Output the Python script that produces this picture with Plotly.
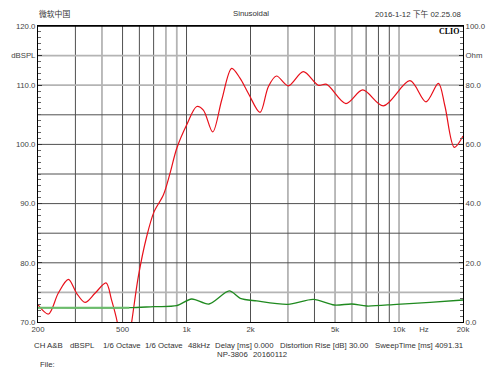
import plotly.graph_objects as go

# ---- data ----
spl_freq = [200, 224, 249, 278, 304, 333, 371, 418, 444, 472, 510, 552, 593, 649, 703, 778, 836, 899,
            1002, 1117, 1200, 1328, 1464, 1631, 1785, 1955, 2218, 2426, 2650, 3013, 3545, 4168, 4566,
            5625, 6745, 8435, 11260, 13390, 15320, 16460, 18200, 20000]
spl_db = [72.9, 71.35, 74.85, 77.2, 74.85, 73.3, 74.85, 76.6, 73.7, 70.0, 62.0, 70.0, 77.65, 84.4, 88.6,
          91.45, 95.1, 99.3, 103.3, 106.4, 105.8, 102.1, 107.5, 112.85, 111.2, 108.6, 105.4, 109.75,
          111.55, 109.9, 112.3, 110.0, 110.15, 106.9, 109.2, 106.5, 110.76, 107.2, 110.3, 106.4, 99.5, 101.4]

imp_freq = [200, 538, 700, 898, 1057, 1276, 1589, 1790, 2139, 3000, 3952, 4957, 5990, 7049, 9750, 13990, 20000]
imp_ohm = [4.83, 4.83, 5.2, 5.5, 7.77, 6.08, 10.5, 8.0, 7.1, 5.97, 7.66, 5.74, 6.08, 5.4, 5.97, 6.65, 7.43]

x_tickvals = [200, 500, 1000, 2000, 5000, 10000, 13100, 20000]
x_ticktext = ['200', '500', '1k', '2k', '5k', '10k', 'Hz', '20k']
y_tickvals = [70, 80, 90, 100, 110, 115, 120]
y_ticktext = ['70.0', '80.0', '90.0', '100.0', '110.0', 'dBSPL', '120.0']
y2_tickvals = [0, 20, 40, 60, 80, 90, 100]
y2_ticktext = ['0.0', '20.0', '40.0', '60.0', '80.0', 'Ohm', '100.0']

vgrid_dark = [300, 500, 600, 700, 1000, 2000, 4000, 7000, 8000, 9000]
vgrid_light = [400, 800, 900, 3000, 5000, 6000, 10000]
hgrid_dark = [80, 85, 90, 95, 100, 105]
hgrid_light = [75, 110, 115]

FONT = "Liberation Sans, Arial, sans-serif"
CJK = "Liberation Sans, Noto Sans CJK SC, sans-serif"

fig = go.Figure()
fig.add_trace(go.Scatter(x=imp_freq, y=imp_ohm, yaxis='y2', mode='lines',
                         line=dict(color='#1f8a1f', width=1.3, shape='spline', smoothing=0.8),
                         showlegend=False, hoverinfo='skip'))
# lighter rendering of the flat low-frequency part of the impedance curve
fig.add_trace(go.Scatter(x=imp_freq[:2], y=imp_ohm[:2], yaxis='y2', mode='lines',
                         line=dict(color='#6cbd6c', width=2),
                         showlegend=False, hoverinfo='skip'))
fig.add_trace(go.Scatter(x=spl_freq, y=spl_db, mode='lines',
                         line=dict(color='#e8101a', width=1.2, shape='spline', smoothing=0.9),
                         showlegend=False, hoverinfo='skip'))

shapes = []
for f in vgrid_dark:
    shapes.append(dict(type='line', xref='x', yref='paper', x0=f, x1=f, y0=0, y1=1,
                       line=dict(color='#505050', width=1), layer='below'))
for f in vgrid_light:
    shapes.append(dict(type='line', xref='x', yref='paper', x0=f, x1=f, y0=0, y1=1,
                       line=dict(color='#b4b4b4', width=1.8), layer='below'))
for v in hgrid_dark:
    shapes.append(dict(type='line', xref='paper', yref='y', x0=0, x1=1, y0=v, y1=v,
                       line=dict(color='#505050', width=1), layer='below'))
for v in hgrid_light:
    shapes.append(dict(type='line', xref='paper', yref='y', x0=0, x1=1, y0=v, y1=v,
                       line=dict(color='#b4b4b4', width=1.8), layer='below'))

L, R, T, B = 38, 39, 26, 54
PW, PH = 502 - L - R, 376 - T - B


def px(x):
    return (x - L) / PW


def py(y):
    return (376 - B - y) / PH


ann = []


def txt(s, x, y, anchor='left', size=7.8, color='#333333', family=FONT, bold=False):
    ann.append(dict(text=('<b>%s</b>' % s) if bold else s, x=px(x), y=py(y), xref='paper', yref='paper',
                    xanchor=anchor, yanchor='middle', showarrow=False,
                    font=dict(size=size, color=color, family=family)))


txt('微软中国', 37, 14, family=CJK)
txt('Sinusoidal', 251, 14, anchor='center')
txt('2016-1-12 下午 02.25.08', 463, 14, anchor='right', family=CJK)
txt('CLIO', 461, 31, anchor='right', size=8, color='#000000', family='Liberation Serif, serif', bold=True)
for s, x in [('CH A&B', 32), ('dBSPL', 68), ('1/6 Octave', 100.7), ('1/6 Octave', 143.3), ('48kHz', 185.7),
             ('Delay [ms] 0.000', 212.7), ('Distortion Rise [dB] 30.00', 278.3), ('SweepTime [ms] 4091.31', 373.3)]:
    txt(s, x, 345)
txt('NP-3806', 215, 354)
txt('20160112', 251.3, 354)
txt('File:', 38, 364)

fig.update_layout(
    width=502, height=376,
    margin=dict(l=L, r=R, t=T, b=B, pad=0, autoexpand=False),
    paper_bgcolor='white', plot_bgcolor='white',
    font=dict(family=FONT, size=7.8, color='#444444'),
    shapes=shapes, annotations=ann,
    xaxis=dict(type='log', range=[2.30103, 4.30103], tickmode='array', tickvals=x_tickvals,
               ticktext=x_ticktext, showgrid=False, zeroline=False, showline=True, linecolor='#000000',
               linewidth=1, mirror=True, ticks='', automargin=False,
               tickfont=dict(size=7.8, color='#444444')),
    yaxis=dict(range=[70, 120], tickmode='array', tickvals=y_tickvals, ticktext=y_ticktext,
               showgrid=False, zeroline=False, showline=True, linecolor='#000000', linewidth=1,
               ticks='inside', ticklen=4, tickcolor='#333333', automargin=False,
               minor=dict(tickmode='linear', tick0=70, dtick=1, ticks='inside', ticklen=3,
                          tickcolor='#666666', showgrid=False),
               tickfont=dict(size=7.8, color='#444444')),
    yaxis2=dict(range=[0, 100], overlaying='y', side='right', tickmode='array', tickvals=y2_tickvals,
                ticktext=y2_ticktext, showgrid=False, zeroline=False, showline=True, linecolor='#000000',
                linewidth=1, ticks='inside', ticklen=4, tickcolor='#333333', automargin=False,
                minor=dict(tickmode='linear', tick0=0, dtick=2, ticks='inside', ticklen=3,
                           tickcolor='#666666', showgrid=False),
                tickfont=dict(size=7.8, color='#444444')),
)
fig.add_shape(type='line', xref='paper', yref='paper', x0=0, x1=1, y0=1, y1=1,
              line=dict(color='#000000', width=1.5))

fig.write_html("out.html", config={'displayModeBar': False},
               post_script="document.body.style.margin='0';document.body.style.overflow='hidden';")
